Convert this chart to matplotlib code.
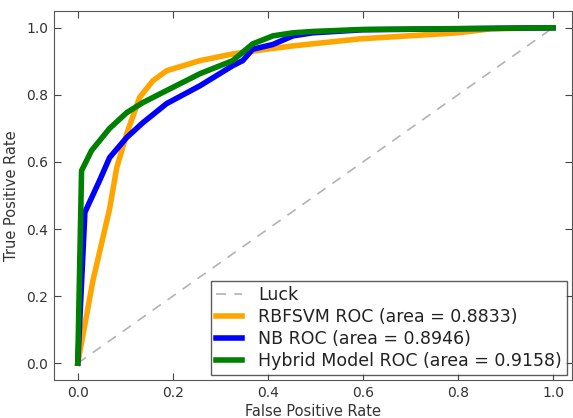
import matplotlib.pyplot as plt

# ROC points
svm_fpr = [0.0, 0.032, 0.067, 0.082, 0.103, 0.13, 0.158, 0.187, 0.257, 0.326, 0.397, 0.453, 0.594, 0.80, 0.87, 1.0]
svm_tpr = [0.0, 0.247, 0.46, 0.583, 0.684, 0.792, 0.842, 0.872, 0.902, 0.922, 0.936, 0.946, 0.967, 0.985, 0.997, 1.0]

nb_fpr = [0.0, 0.015, 0.046, 0.067, 0.103, 0.137, 0.187, 0.257, 0.326, 0.347, 0.368, 0.41, 0.453, 0.495, 0.6, 1.0]
nb_tpr = [0.0, 0.450, 0.545, 0.613, 0.673, 0.717, 0.774, 0.827, 0.887, 0.902, 0.936, 0.95, 0.976, 0.985, 0.994, 1.0]

hyb_fpr = [0.0, 0.008, 0.029, 0.067, 0.103, 0.137, 0.187, 0.257, 0.326, 0.368, 0.411, 0.453, 0.495, 0.6, 1.0]
hyb_tpr = [0.0, 0.574, 0.634, 0.70, 0.747, 0.777, 0.813, 0.863, 0.902, 0.952, 0.976, 0.985, 0.989, 0.995, 1.0]

labels = ['RBFSVM ROC (area = 0.8833)', 'NB ROC (area = 0.8946)', 'Hybrid Model ROC (area = 0.9158)']

fig = plt.figure(figsize=(5.73, 4.18), dpi=100)
ax = fig.add_axes([54 / 573, 38 / 418, 518 / 573, 369 / 418])

ax.plot([0, 1], [0, 1], '--', color=(0.7, 0.7, 0.7), lw=1.2, dashes=(6, 5), label='Luck')
ax.plot(svm_fpr, svm_tpr, color='orange', lw=4, label=labels[0])
ax.plot(nb_fpr, nb_tpr, color='blue', lw=4, label=labels[1])
ax.plot(hyb_fpr, hyb_tpr, color='green', lw=4, label=labels[2])

ax.set_xlim(-0.05, 1.04)
ax.set_ylim(-0.05, 1.05)
ax.set_xticks([0.0, 0.2, 0.4, 0.6, 0.8, 1.0])
ax.set_yticks([0.0, 0.2, 0.4, 0.6, 0.8, 1.0])
ax.tick_params(direction='in', top=True, right=True, length=5, colors='#444444', labelsize=10, pad=4)
ax.tick_params(labelcolor='#333333')
for s in ax.spines.values():
    s.set_color('#555555')
ax.set_xlabel('False Positive Rate', fontsize=10.5, color='#333333', labelpad=3)
ax.set_ylabel('True Positive Rate', fontsize=10.5, color='#333333', labelpad=5)

leg = ax.legend(loc='lower right', fontsize=12.5, fancybox=False, borderaxespad=0.3,
                handlelength=1.5, handletextpad=0.9, labelspacing=0.22, borderpad=0.3)
leg.get_frame().set_edgecolor('#333333')
for t in leg.get_texts():
    t.set_color('#222222')

fig.savefig('out.png', dpi=100)
